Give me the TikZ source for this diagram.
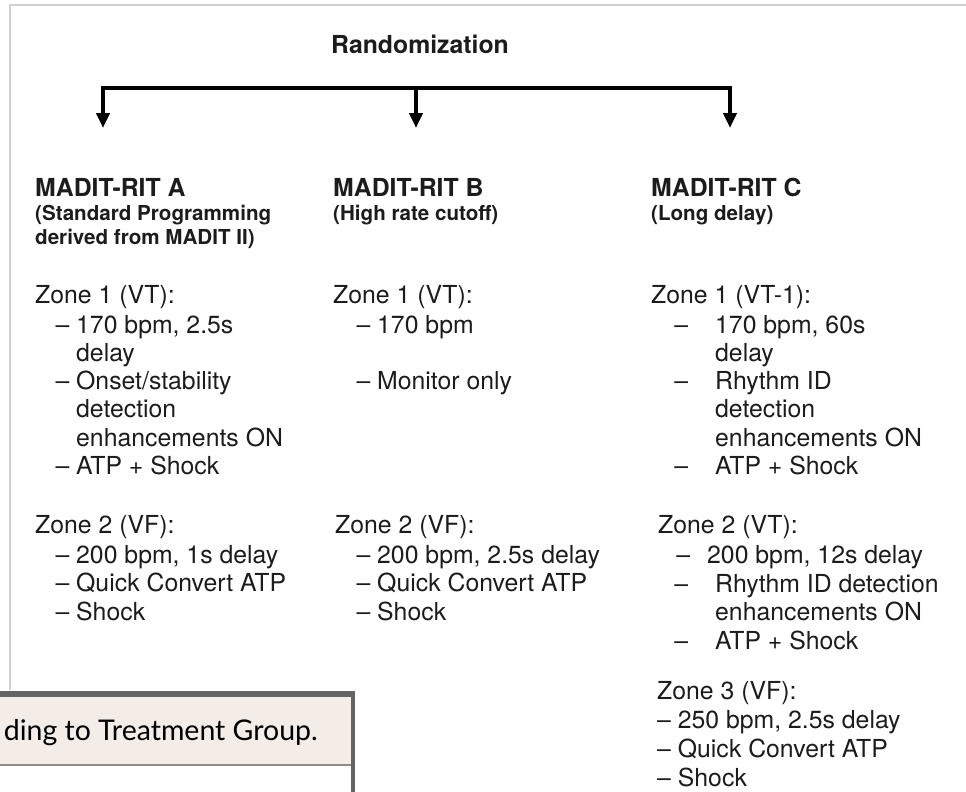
\documentclass[tikz,border=0pt]{standalone}
\usepackage{fontspec}
\setmainfont{TeX Gyre Heros}
\newfontfamily\capfont{Lato}
\usetikzlibrary{arrows.meta,positioning}
\definecolor{framegray}{RGB}{208,208,208}
\definecolor{boxgray}{RGB}{100,100,100}
\definecolor{rulegray}{RGB}{140,140,140}
\definecolor{capbeige}{RGB}{243,236,231}
\definecolor{inkgray}{RGB}{28,28,28}
\newcommand{\zdash}[1][0.278em]{\llap{\textendash\hspace{#1}}}

\begin{document}
\begin{tikzpicture}[x=1pt,y=-1pt,>={Triangle[width=13pt,length=15pt]},
  txt/.style={anchor=base west,inner sep=0pt,text=inkgray,font=\fontsize{24.8}{29}\selectfont},
  head/.style={txt,font=\fontsize{24.8}{29}\selectfont\bfseries},
  subhead/.style={txt,font=\fontsize{20.6}{24}\selectfont\bfseries}]
\useasboundingbox (0,0) rectangle (966,792);
% frame and caption box
\draw[framegray,line width=2pt] (10,690) -- (10,5) -- (966,5);
\fill[capbeige] (0,694) rectangle (352,764);
\draw[rulegray,line width=2pt] (0,765) -- (352,765);
\draw[boxgray,line width=5.5pt] (0,694) -- (355,694);
\draw[boxgray,line width=4pt] (353,694) -- (353,792);
\node[anchor=base east,inner sep=0pt,font=\capfont\fontsize{28.5}{32}\selectfont] (cap) at (318,740) {ding to Treatment Group.};
% randomization bracket
\node[head,anchor=base] (rand) at (420,53) {Randomization};
\coordinate (brL) at (103,88); \coordinate (brM) at (416,88); \coordinate (brR) at (730,88);
\coordinate (tipL) at (103,128); \coordinate (tipM) at (416,128); \coordinate (tipR) at (730,128);
\draw[line width=4.5pt,<->] (tipL) -- (brL) -- (brR) -- (tipR);
\draw[line width=4.5pt,->] (brM) -- (tipM);
% arm A
\node[head] (hdA) at (35,196) {MADIT-RIT A};
\node[subhead] (subA1) at (35,220) {(Standard Programming};
\node[subhead] (subA2) at (35,244) {derived from MADIT II)};
\node[txt] (zA1) at (35,303) {Zone 1 (VT):};
\foreach \t [count=\i from 0] in {{\zdash170 bpm, 2.5s},delay,{\zdash Onset/stability},detection,{enhancements ON},{\zdash ATP + Shock}}
  \node[txt] (itA1-\i) at (76,{333+28.3*\i}) {\t};
\node[txt] (zA2) at (35,533) {Zone 2 (VF):};
\foreach \t [count=\i from 0] in {{\zdash 200 bpm, 1s delay},{\zdash Quick Convert ATP},{\zdash Shock}}
  \node[txt] (itA2-\i) at (76,{563+28.5*\i}) {\t};
% arm B
\node[head] (hdB) at (333,196) {MADIT-RIT B};
\node[subhead] (subB) at (333,220) {(High rate cutoff)};
\node[txt] (zB1) at (333,303) {Zone 1 (VT):};
\node[txt] (itB1-0) at (377,333) {\zdash 170 bpm};
\node[txt] (itB1-1) at (377,389) {\zdash Monitor only};
\node[txt] (zB2) at (335,533) {Zone 2 (VF):};
\foreach \t [count=\i from 0] in {{\zdash 200 bpm, 2.5s delay},{\zdash Quick Convert ATP},{\zdash Shock}}
  \node[txt] (itB2-\i) at (377,{563+28.5*\i}) {\t};
% arm C
\node[head] (hdC) at (651,196) {MADIT-RIT C};
\node[subhead] (subC) at (651,220) {(Long delay)};
\node[txt] (zC1) at (651,303) {Zone 1 (VT-1):};
\foreach \t [count=\i from 0] in {{\zdash[27pt]170 bpm, 60s},delay,{\zdash[27pt]Rhythm ID},detection,{enhancements ON},{\zdash[27pt]ATP + Shock}}
  \node[txt] (itC1-\i) at (715,{333+28.3*\i}) {\t};
\node[txt] (zC2) at (658,533) {Zone 2 (VT):};
\node[txt] (itC2-0) at (707,563) {\zdash[17pt]200 bpm, 12s delay};
\foreach \t [count=\i from 1] in {{\zdash[27pt]Rhythm ID detection},{enhancements ON},{\zdash[27pt]ATP + Shock}}
  \node[txt] (itC2-\i) at (715,{563.5+28.7*\i}) {\t};
\node[txt] (zC3) at (657,699) {Zone 3 (VF):};
\foreach \t [count=\i from 0] in {{– 250 bpm, 2.5s delay},{– Quick Convert ATP},{– Shock}}
  \node[txt] (itC3-\i) at (657,{728.5+29*\i}) {\t};
\end{tikzpicture}
\end{document}
